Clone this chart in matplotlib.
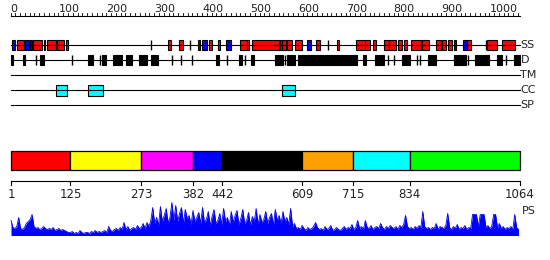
import matplotlib
matplotlib.use("Agg")
import matplotlib.pyplot as plt
from matplotlib.patches import Rectangle

seq_len = 1064

# secondary structure (residue ranges)
ss_helix = [(13, 29), (46, 65), (77, 94), (98, 111), (115, 119), (328, 336),
            (351, 361), (415, 420), (434, 438), (480, 493), (493, 499),
            (505, 560), (562, 568), (568, 576), (578, 587), (595, 608),
            (639, 647), (681, 685), (722, 741), (741, 750), (756, 764),
            (779, 791), (791, 806), (810, 818), (822, 829), (837, 858),
            (860, 875), (889, 900), (902, 910), (914, 921), (954, 962),
            (996, 1017), (1027, 1054)]
ss_strand = [(4, 10), (31, 38), (40, 44), (69, 73), (94, 98), (392, 395),
             (399, 411), (451, 461), (620, 628), (927, 931), (946, 954)]
ss_short = [294, 374, 664, 992]

# disorder
disorder = [(1, 6), (27, 31), (61, 69), (161, 173), (190, 200), (215, 232),
            (242, 253), (269, 284), (294, 309), (430, 436), (478, 484),
            (503, 509), (553, 570), (578, 595), (601, 724), (737, 743),
            (762, 781), (818, 835), (871, 889), (927, 952), (971, 1000),
            (1015, 1027), (1052, 1063)]
disorder_short = [53, 129, 186, 338, 357, 380, 453, 489, 574, 789, 800,
                  848, 856, 956, 1035]

coiled_coil = [(96, 117), (161, 194), (566, 595)]

domain_bounds = [1, 125, 273, 382, 442, 609, 715, 834, 1064]
domain_colors = ["#FF0000", "#FFFF00", "#FF00FF", "#0000FF", "#000000",
                 "#FFA000", "#00FFFF", "#00FF00"]

track_names = ["SS", "D", "TM", "CC", "SP"]

# PS profile, one value every 4 residues
ps_pos = list(range(1, 1062, 4))
ps_vals = [15, 8, 7, 9, 18, 7, 6, 8, 12, 14, 16, 21, 9, 7, 8, 6, 7, 9, 7, 6,
           7, 6, 8, 5, 6, 7, 5, 6, 5, 4, 3, 3, 4, 2, 3, 2, 5, 3, 2, 3,
           3, 2, 4, 3, 5, 3, 4, 3, 4, 5, 3, 9, 5, 4, 6, 7, 5, 8, 6, 13,
           6, 9, 5, 7, 8, 6, 10, 7, 8, 12, 7, 13, 9, 15, 28, 12, 18, 10, 29, 14,
           20, 27, 13, 18, 33, 15, 30, 14, 22, 28, 12, 26, 17, 20, 11, 25, 14, 18, 23, 12,
           28, 13, 16, 24, 10, 19, 26, 12, 15, 22, 11, 27, 14, 18, 10, 24, 13, 20, 25, 11,
           17, 26, 12, 15, 23, 10, 19, 14, 27, 11, 21, 13, 16, 24, 12, 18, 22, 10, 26, 15,
           20, 12, 24, 14, 18, 11, 27, 9, 12, 7, 8, 6, 10, 7, 5, 8, 6, 7, 9, 13,
           8, 6, 7, 5, 9, 6, 7, 10, 5, 6, 8, 6, 5, 7, 9, 6, 8, 7, 11, 6,
           8, 15, 7, 9, 6, 15, 8, 7, 10, 6, 8, 9, 7, 12, 8, 6, 9, 7, 10, 8,
           7, 9, 6, 10, 8, 11, 20, 9, 7, 8, 6, 9, 7, 10, 8, 24, 9, 7, 8, 6,
           8, 7, 12, 6, 9, 8, 7, 10, 22, 8, 6, 9, 7, 11, 6, 8, 7, 10, 6, 8,
           7, 21, 21, 21, 9, 21, 21, 21, 8, 10, 7, 9, 21, 21, 8, 12, 7, 9, 6, 8,
           7, 9, 6, 21, 8, 6]

fig = plt.figure(figsize=(5.5, 2.6), dpi=100)
ax = fig.add_axes([0, 0, 1, 1])
ax.set_xlim(-22.0, 1126.7)
ax.set_ylim(260, 0)
ax.axis("off")

txt = dict(fontsize=8, color="#222222", family="DejaVu Sans")

# top ruler
ax.plot([0, seq_len], [15.5, 15.5], color="black", lw=0.8)
for p in range(0, seq_len, 10):
    ax.plot([p, p], [12.5, 15.5], color="black", lw=0.6)
for p in range(0, 1001, 100):
    ax.text(p, 12, str(p), ha="left", va="baseline", **txt)

# feature tracks
track_y = [45, 60, 75, 90, 105]
for name, y in zip(track_names, track_y):
    ax.plot([1, seq_len], [y, y], color="black", lw=0.8)
    ax.text(seq_len + 1, y, name, ha="left", va="center", **txt)


def boxes(ranges, y, color, h=10):
    for s, e in ranges:
        ax.add_patch(Rectangle((s, y - h / 2), e - s, h, facecolor=color,
                               edgecolor="black", lw=0.8))


boxes(ss_helix, 45, "#FF0000")
boxes(ss_strand, 45, "#0000FF")
ax.vlines(ss_short, 40, 50, color="black", lw=1)
boxes(disorder, 60, "#000000")
ax.vlines(disorder_short, 55, 65, color="black", lw=1)
boxes(coiled_coil, 90, "#00FFFF", h=11)

# domain bar
for i, c in enumerate(domain_colors):
    s, e = domain_bounds[i], domain_bounds[i + 1]
    ax.add_patch(Rectangle((s, 150.5), e - s, 19.5, facecolor=c,
                           edgecolor="black", lw=0.9))
ax.plot([1, seq_len], [181, 181], color="black", lw=0.8)
for b in domain_bounds:
    ax.plot([b, b], [181, 185], color="black", lw=0.8)
    ax.text(b, 195, str(b), ha="center", va="center", fontsize=8.5,
            color="#222222")

# PS profile
base = 235.5
ax.fill_between(ps_pos, [base - v for v in ps_vals], base, color="#0000FF",
                lw=0)
ax.plot(ps_pos, [base - v for v in ps_vals], color="#0000FF", lw=0.6)
ax.text(seq_len + 3, 211, "PS", ha="left", va="center", **txt)

fig.savefig("out.png", dpi=100)
